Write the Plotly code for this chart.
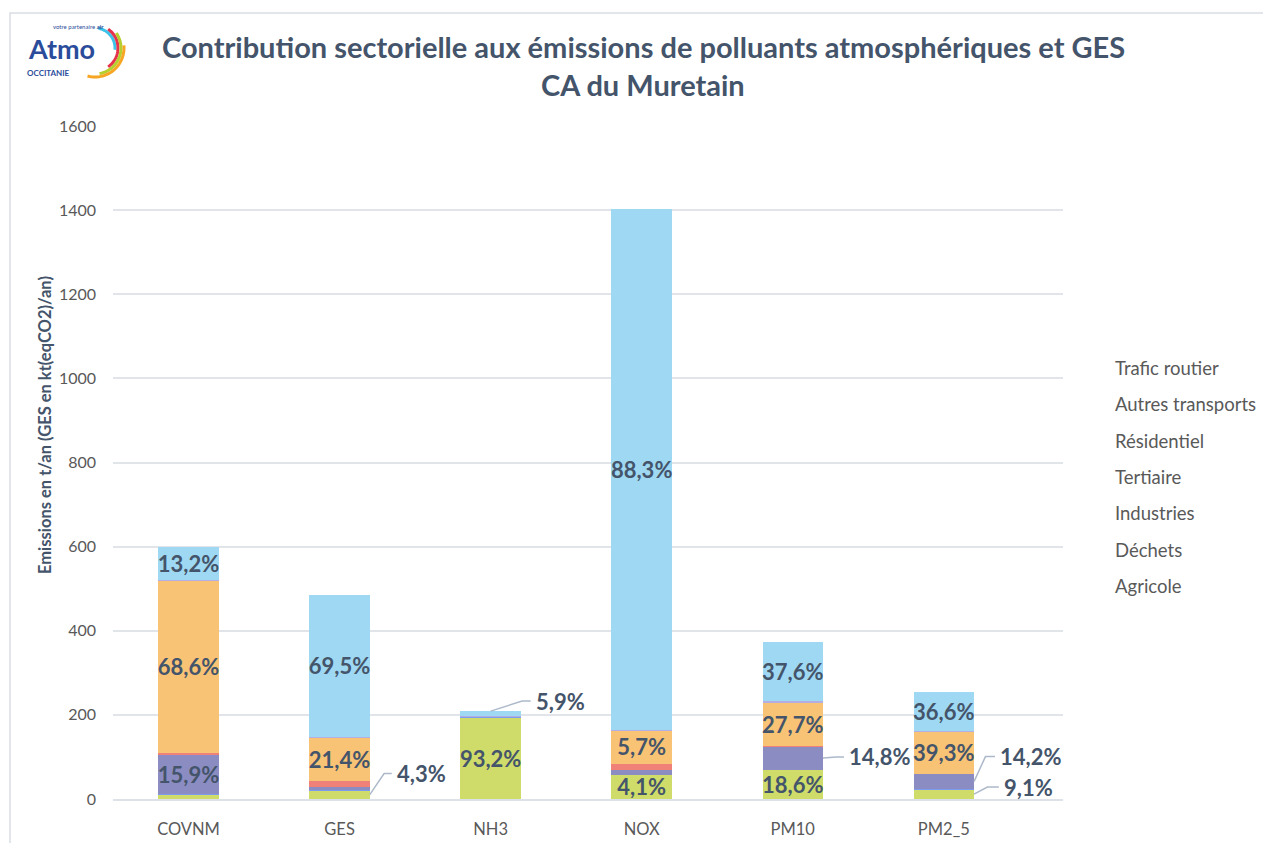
import numpy as np
import plotly.graph_objects as go

# --- data -----------------------------------------------------------------
categories = ["COVNM", "GES", "NH3", "NOX", "PM10", "PM2_5"]

# stacking order bottom -> top
sectors = ["Agricole", "Déchets", "Industries", "Tertiaire",
           "Résidentiel", "Autres transports", "Trafic routier"]

agricole = [11.0, 20.9, 194.8, 57.5, 69.6, 23.2]
dechets = [0.3, 0.5, 0.3, 0.2, 0.2, 0.1]
industries = [95.4, 6.0, 1.0, 11.7, 55.4, 36.2]
tertiaire = [1.5, 15.0, 0.05, 14.5, 1.0, 0.5]
residentiel = [411.6, 103.8, 0.5, 80.0, 103.6, 100.2]
autres_transports = [1.0, 1.7, 0.05, 0.3, 3.6, 1.5]
trafic_routier = [79.2, 337.1, 12.3, 1238.8, 140.6, 93.3]

# percentage labels written inside the segments (None = no label)
pct_agricole = [None, None, 93.2, 4.1, 18.6, None]
pct_industries = [15.9, None, None, None, None, None]
pct_residentiel = [68.6, 21.4, None, 5.7, 27.7, 39.3]
pct_trafic = [13.2, 69.5, None, 88.3, 37.6, 36.6]

# labels placed outside with a leader line: (category, sector, pct)
outside_labels = [
    ("GES", "Agricole", 4.3),
    ("NH3", "Trafic routier", 5.9),
    ("PM10", "Industries", 14.8),
    ("PM2_5", "Industries", 14.2),
    ("PM2_5", "Agricole", 9.1),
]

values = {
    "Agricole": agricole, "Déchets": dechets, "Industries": industries,
    "Tertiaire": tertiaire, "Résidentiel": residentiel,
    "Autres transports": autres_transports, "Trafic routier": trafic_routier,
}
pcts = {"Agricole": pct_agricole, "Industries": pct_industries,
        "Résidentiel": pct_residentiel, "Trafic routier": pct_trafic}

colors = {
    "Agricole": "#CFDC6A", "Déchets": "#7C9CF0", "Industries": "#8B8CC2",
    "Tertiaire": "#F08179", "Résidentiel": "#F9C375",
    "Autres transports": "#B3AFE3", "Trafic routier": "#9FD8F2",
}

LABEL = "#44546A"
GREY = "#595959"
FONT = "Lato"

# plot area in pixels (for placing decorations)
W, H = 1263, 843
L, R, T, B = 113, 1063, 126, 799


def px(x, y):
    """pixel -> paper coordinates"""
    return (x - L) / (R - L), (B - y) / (B - T)


def fmt(p):
    return f"{p:.1f}%".replace(".", ",")


def note(x, y, text, size, color, bold=False, **kw):
    ax_, ay_ = px(x, y)
    opts = dict(xanchor="center", yanchor="middle")
    opts.update(kw)
    fig.add_annotation(x=ax_, y=ay_, xref="paper", yref="paper", text=text,
                       showarrow=False,
                       font=dict(family=FONT, size=size, color=color,
                                 weight="bold" if bold else "normal"),
                       **opts)


fig = go.Figure()

for s in sectors:
    p = pcts.get(s, [None] * len(categories))
    fig.add_trace(go.Bar(
        x=categories, y=values[s], name=s,
        marker_color=colors[s], marker_line_width=0,
        text=[fmt(v) if v is not None else "" for v in p],
        textposition="inside", insidetextanchor="middle", textangle=0,
        constraintext="none",
        textfont=dict(family=FONT, size=22, color=LABEL, weight="bold"),
        hoverinfo="x+y+name", showlegend=False,
    ))

# --- outside labels with elbow leader lines -------------------------------
ypx = 1600 / (B - T)          # data units per pixel (y)
xpx = 1 / ((R - L) / len(categories))  # category units per pixel (x)
elbows = {  # (start at bar centre?, dx to elbow, dy to elbow, horizontal length) in px
    ("GES", "Agricole"): (False, 15, 21, 8),
    ("NH3", "Trafic routier"): (True, 33, 10, 9),
    ("PM10", "Industries"): (False, 14, 1, 8),
    ("PM2_5", "Industries"): (False, 12, 25, 10),
    ("PM2_5", "Agricole"): (False, 14, 7, 12),
}
for cat, sec, p in outside_labels:
    i = categories.index(cat)
    below = sum(values[s][i] for s in sectors[:sectors.index(sec)])
    if sec == "Trafic routier":
        ymid = below + values[sec][i]
    else:
        ymid = below + values[sec][i] / 2
    at_centre, dx, dy, hl = elbows[(cat, sec)]
    x0 = i if at_centre else i + 0.2
    x1 = x0 + dx * xpx
    y1 = ymid + dy * ypx
    x2 = x1 + hl * xpx
    fig.add_shape(type="path", xref="x", yref="y",
                  path=f"M {x0},{ymid} L {x1},{y1} L {x2},{y1}",
                  line=dict(color="#ADB9CA", width=1.5))
    fig.add_annotation(x=x2, y=y1, xref="x", yref="y", text=fmt(p),
                       showarrow=False, xanchor="left", yanchor="middle", xshift=3,
                       font=dict(family=FONT, size=22, color=LABEL, weight="bold"))

# --- legend as text (no symbols in the reference) -------------------------
for k, s in enumerate(reversed(sectors)):
    note(1113, 368 + k * 36.3, s, 18.5, GREY, xanchor="left")

# --- titles ---------------------------------------------------------------
note(643, 47, "Contribution sectorielle aux émissions de polluants atmosphériques et GES",
     29, LABEL, bold=True)
note(643, 84, "CA du Muretain", 29, LABEL, bold=True)
note(45, 425, "Emissions en t/an (GES en kt(eqCO2)/an)", 16.5, LABEL, bold=True,
     textangle=-90)

# --- logo -----------------------------------------------------------------
note(61, 49, "Atmo", 27, "#2B4C9B", bold=True)
note(48, 73, "OCCITANIE", 8, "#2B4C9B", bold=True)
note(78, 26, "votre partenaire <b>air</b>", 6, "#2B4C9B")
arcs = [(20, 80, -5, "#3DC3E8"), (23, 55, -55, "#E5334B"),
        (26, 35, -80, "#B5CF2E"), (29, 5, -105, "#F6A623")]
for r, a0, a1, c in arcs:
    ang = np.radians(np.linspace(a0, a1, 30))
    pts = [px(95 + r * np.cos(a), 48 - r * np.sin(a)) for a in ang]
    path = "M " + " L ".join(f"{x:.4f},{y:.4f}" for x, y in pts)
    fig.add_shape(type="path", xref="paper", yref="paper", path=path,
                  line=dict(color=c, width=3))

# frame around the chart
fx0, fy0 = px(10, 13)
fx1, fy1 = px(1290, 870)
fig.add_shape(type="rect", xref="paper", yref="paper", x0=fx0, y0=fy1, x1=fx1, y1=fy0,
              line=dict(color="#D9DEE4", width=1.5), layer="below")

fig.update_layout(
    width=W, height=H,
    margin=dict(l=L, r=W - R, t=T, b=H - B),
    barmode="stack", bargap=0.6,
    plot_bgcolor="white", paper_bgcolor="white",
    font=dict(family=FONT, color=GREY),
    showlegend=False,
)
fig.update_xaxes(tickfont=dict(size=16.5, color=GREY), showline=True,
                 linecolor="#DDE2E8", linewidth=2, ticklabelstandoff=14,
                 automargin=False)
fig.update_yaxes(range=[0, 1600], dtick=200, tickfont=dict(size=16, color=GREY),
                 gridcolor="#E1E5EA", gridwidth=1.5, zeroline=False,
                 ticklabelstandoff=16, automargin=False)

fig.write_html("out.html", config={"displayModeBar": False},
               post_script="document.body.style.margin='0';")
